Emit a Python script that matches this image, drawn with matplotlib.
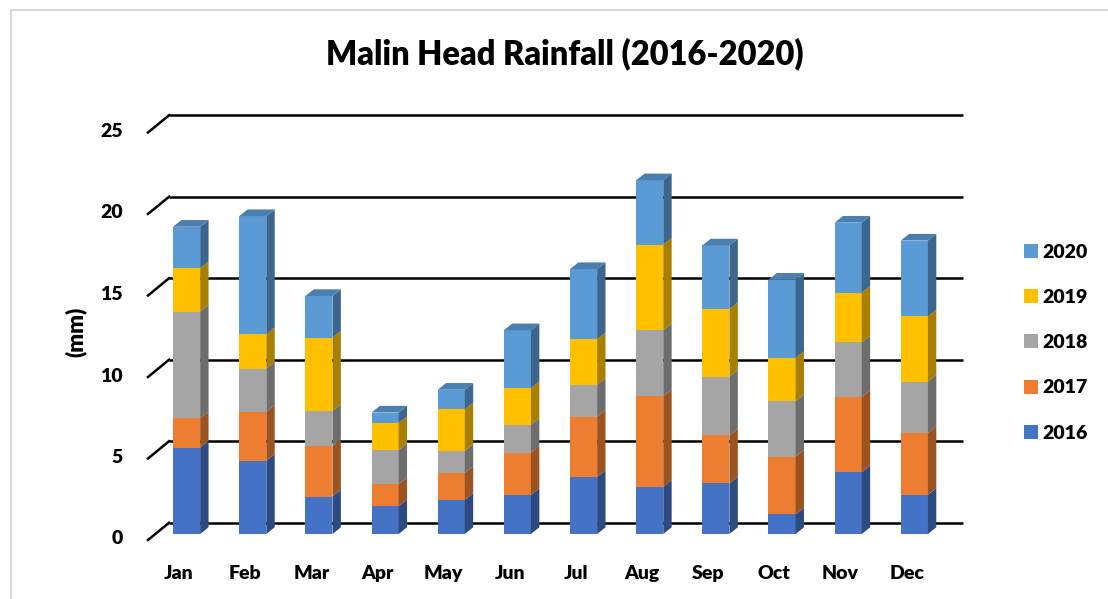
import matplotlib.pyplot as plt
import numpy as np
from matplotlib.patches import Polygon, Patch
from matplotlib.lines import Line2D

plt.switch_backend('agg')

# ---------------- data ----------------
months = ['Jan', 'Feb', 'Mar', 'Apr', 'May', 'Jun',
          'Jul', 'Aug', 'Sep', 'Oct', 'Nov', 'Dec']
years = ['2016', '2017', '2018', '2019', '2020']

rain_2016 = [5.3, 4.5, 2.3, 1.7, 2.1, 2.4, 3.5, 2.9, 3.1, 1.2, 3.8, 2.4]
rain_2017 = [1.8, 3.0, 3.1, 1.35, 1.65, 2.6, 3.7, 5.55, 2.95, 3.55, 4.6, 3.8]
rain_2018 = [6.55, 2.65, 2.15, 2.1, 1.35, 1.7, 1.95, 4.05, 3.6, 3.4, 3.35, 3.15]
rain_2019 = [2.65, 2.1, 4.5, 1.65, 2.55, 2.25, 2.8, 5.25, 4.15, 2.65, 3.05, 4.0]
rain_2020 = [2.55, 7.25, 2.55, 0.65, 1.2, 3.55, 4.3, 3.95, 3.9, 4.8, 4.3, 4.65]

yticks = [0, 5, 10, 15, 20, 25]

# ---------------- style ----------------
face_colors = ['#4472C4', '#ED7D31', '#A5A5A5', '#FFC000', '#5B9BD5']
FONT = ['Lato', 'DejaVu Sans']
WEIGHT = 'heavy'
plt.rcParams['font.family'] = FONT

W, H = 1108, 599
fig = plt.figure(figsize=(W / 100, H / 100), dpi=100)

# axes = front plane of the bars (pixel layout)
AX_L, AX_R, AX_B, AX_T = 155.3, 949.2, 534.0, 126.5
ax = fig.add_axes([AX_L / W, (H - AX_B) / H, (AX_R - AX_L) / W, (AX_B - AX_T) / H])
ax.set_xlim(-0.5, 11.5)
ax.set_ylim(0, 25)
ax.axis('off')

px2x = 12.0 / (AX_R - AX_L)
px2y = 25.0 / (AX_B - AX_T)


def darker(c, f):
    r, g, b = [int(c[i:i + 2], 16) / 255.0 for i in (1, 3, 5)]
    return (r * f, g * f, b * f)


# back wall gridlines + diagonal ticks
back_dx, back_dy = 13.8 * px2x, 11.3 * px2y
front_dx, front_dy = -7.3 * px2x, -6.0 * px2y
for v in yticks:
    ax.plot([-0.5 + back_dx, 11.5 + back_dx], [v + back_dy, v + back_dy],
            color='black', lw=1.8, zorder=1, clip_on=False, solid_capstyle='butt')
    ax.plot([-0.5 + front_dx, -0.5 + back_dx], [v + front_dy, v + back_dy],
            color='black', lw=1.8, zorder=1, clip_on=False)
    ax.text(-0.5 - 32.3 * px2x, v - 10.5 * px2y, str(v), ha='right', va='baseline',
            fontsize=14, fontweight=WEIGHT, clip_on=False)

# stacked 3D-look bars
series = [rain_2016, rain_2017, rain_2018, rain_2019, rain_2020]
x = np.arange(len(months)) - 0.027
width = 0.41
depth_x, depth_y = 8.4 * px2x, 6.7 * px2y
bottom = np.zeros(len(months))
for k, vals in enumerate(series):
    vals = np.array(vals)
    ax.bar(x, vals, width=width, bottom=bottom, color=face_colors[k],
           linewidth=0, zorder=3)
    side = darker(face_colors[k], 0.66)
    for i in range(len(months)):
        xr = x[i] + width / 2
        b0, b1 = bottom[i], bottom[i] + vals[i]
        ax.add_patch(Polygon([(xr, b0), (xr, b1), (xr + depth_x, b1 + depth_y),
                              (xr + depth_x, b0 + depth_y)],
                             closed=True, color=side, lw=0, zorder=3))
    bottom = bottom + vals

top_col = darker(face_colors[-1], 0.82)
for i in range(len(months)):
    xl, xr = x[i] - width / 2, x[i] + width / 2
    t = bottom[i]
    ax.add_patch(Polygon([(xl, t), (xr, t), (xr + depth_x, t + depth_y),
                          (xl + depth_x, t + depth_y)],
                         closed=True, color=top_col, lw=0, zorder=3))

# month labels
for i, m in enumerate(months):
    ax.text(i - 9.4 * px2x, -45 * px2y, m, ha='center', va='baseline',
            fontsize=14, fontweight=WEIGHT, clip_on=False)

# titles
fig.text(565 / W, 1 - 64 / H, 'Malin Head Rainfall (2016-2020)', ha='center',
         va='baseline', fontsize=23.5, fontweight=WEIGHT)
fig.text(76 / W, 1 - 332 / H, '(mm)', rotation=90, ha='center', va='center',
         fontsize=16, fontweight=WEIGHT)

# legend (reverse order)
handles = [Patch(facecolor=face_colors[k], edgecolor='none') for k in range(4, -1, -1)]
labels = [years[k] for k in range(4, -1, -1)]
fig.legend(handles, labels, loc='center left', bbox_to_anchor=(1024 / W, 1 - 342.7 / H),
           frameon=False, borderpad=0, borderaxespad=0, handlelength=0.72,
           handleheight=0.72, handletextpad=0.25, labelspacing=1.45,
           prop={'family': FONT, 'weight': WEIGHT, 'size': 14})

# chart area border (left and top only visible)
fig.add_artist(Line2D([11 / W, 11 / W], [0, 1 - 10 / H], color='#D9D9D9', lw=1.5))
fig.add_artist(Line2D([11 / W, 1], [1 - 10 / H, 1 - 10 / H], color='#D9D9D9', lw=1.5))

fig.savefig('out.png', dpi=100)
plt.close()
